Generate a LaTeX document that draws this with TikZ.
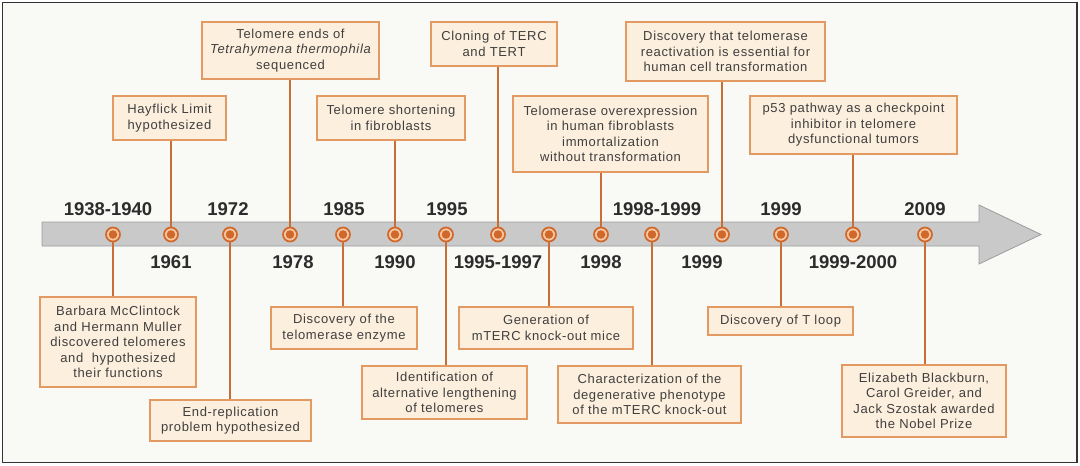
\documentclass[tikz,border=0pt]{standalone}
\usepackage{fontspec}
\setmainfont{Liberation Sans}
\newfontfamily\boxfont[LetterSpace=5]{Liberation Sans}
\newfontfamily\yearfont{Liberation Sans}
\definecolor{bg}{HTML}{F9F9F6}
\definecolor{framecol}{HTML}{333333}
\definecolor{boxfill}{HTML}{FDEFDD}
\definecolor{boxdraw}{HTML}{E39A62}
\definecolor{linecol}{HTML}{C96F35}
\definecolor{dotorange}{HTML}{D0672B}
\definecolor{dotpeach}{HTML}{F6C9A3}
\definecolor{barfill}{HTML}{C9C9C9}
\definecolor{bardraw}{HTML}{9C9C9C}
\definecolor{txt}{HTML}{3F3F3F}
\definecolor{yeartxt}{HTML}{2C2C2C}
\tikzset{
  evbox/.style={draw=boxdraw, line width=1.2pt, fill=boxfill, align=center, inner sep=0pt,
    text=txt, font=\boxfont\fontsize{13}{15.5}\selectfont},
  yr/.style={text=yeartxt, font=\yearfont\bfseries\fontsize{18.5}{20}\selectfont, inner sep=0pt},
  dot/.style={circle, minimum size=14pt, inner sep=0pt, fill=dotpeach, draw=dotorange, line width=1.7pt,
    path picture={\fill[dotorange] (path picture bounding box.center) circle (4.3pt);}},
  conn/.style={draw=linecol, line width=2pt}
}
\begin{document}
\begin{tikzpicture}[x=1pt,y=-1pt]
\useasboundingbox (0,0) rectangle (1080,466);
\fill[white] (0,0) rectangle (1080,466);
\fill[bg] (2.5,2.5) rectangle (1077,462.5);
\draw[line width=1.8pt, framecol] (2.5,2.5) rectangle (1077,462.5);
% timeline arrow
\filldraw[fill=barfill, draw=bardraw, line width=0.8pt]
  (42,222) -- (979,222) -- (979,205) -- (1041,234.5) -- (979,264) -- (979,246) -- (42,246) -- cycle;
% dots
\foreach \i/\x in {1/113,2/171,3/230,4/290,5/343,6/395,7/446,8/498,9/549,10/601,11/652,12/722,13/781,14/853,15/925}
  \node[dot] (c\i) at (\x,234.5) {};
% year labels above
\node[yr] (y1) at (108,209.5) {1938-1940};
\node[yr] (y3) at (228,209.5) {1972};
\node[yr] (y5) at (344,209.5) {1985};
\node[yr] (y7) at (447,209.5) {1995};
\node[yr] (y11) at (657,209.5) {1998-1999};
\node[yr] (y13) at (781,209.5) {1999};
\node[yr] (y15) at (925,209.5) {2009};
% year labels below
\node[yr] (y2) at (171,262.5) {1961};
\node[yr] (y4) at (293,262.5) {1978};
\node[yr] (y6) at (395,262.5) {1990};
\node[yr] (y8) at (498,262.5) {1995-1997};
\node[yr] (y10) at (601,262.5) {1998};
\node[yr] (y12) at (702,262.5) {1999};
\node[yr] (y14) at (853,262.5) {1999-2000};
% top boxes
\node[evbox, minimum width=113pt, minimum height=44pt] (b2) at (169.5,118) {Hayflick Limit\\hypothesized};
\node[evbox, minimum width=177pt, minimum height=57pt] (b4) at (290.5,50.5) {Telomere ends of\\\itshape Tetrahymena thermophila\\sequenced};
\node[evbox, minimum width=148pt, minimum height=44pt] (b6) at (391,118) {Telomere shortening\\in fibroblasts};
\node[evbox, minimum width=126pt, minimum height=44pt] (b8) at (494,44) {Cloning of TERC\\and TERT};
\node[evbox, minimum width=195pt, minimum height=76pt] (b10) at (610.5,134) {Telomerase overexpression\\in human fibroblasts\\immortalization\\without transformation};
\node[evbox, minimum width=199pt, minimum height=59pt] (b12) at (725.5,51.5) {Discovery that telomerase\\reactivation is essential for\\human cell transformation};
\node[evbox, minimum width=207pt, minimum height=58pt] (b14) at (853.5,125) {p53 pathway as a checkpoint\\inhibitor in telomere\\dysfunctional tumors};
% bottom boxes
\node[evbox, minimum width=156pt, minimum height=90pt] (b1) at (118,342) {Barbara McClintock\\and Hermann Muller\\discovered telomeres\\and~~hypothesized\\their functions};
\node[evbox, minimum width=161pt, minimum height=41pt] (b3) at (230.5,420.5) {End-replication\\problem hypothesized};
\node[evbox, minimum width=146pt, minimum height=42pt] (b5) at (344,328) {Discovery of the\\telomerase enzyme};
\node[evbox, minimum width=165pt, minimum height=53pt] (b7) at (444.5,392.5) {Identification of\\alternative lengthening\\of telomeres};
\node[evbox, minimum width=174pt, minimum height=42pt] (b9) at (546,328) {Generation of\\mTERC knock-out mice};
\node[evbox, minimum width=183pt, minimum height=57pt] (b11) at (649.5,394.5) {Characterization of the\\degenerative phenotype\\of the mTERC knock-out};
\node[evbox, minimum width=145pt, minimum height=28pt] (b13) at (780.5,321) {Discovery of T loop};
\node[evbox, minimum width=164pt, minimum height=72pt] (b15) at (924,401) {Elizabeth Blackburn,\\Carol Greider, and\\Jack Szostak awarded\\the Nobel Prize};
% connectors top
\foreach \i in {2,4,6,8,10,12,14}
  \draw[conn] (b\i.south -| c\i) -- (c\i.north);
% connectors bottom
\foreach \i in {1,3,5,7,9,11,13,15}
  \draw[conn] (b\i.north -| c\i) -- (c\i.south);
\end{tikzpicture}
\end{document}
